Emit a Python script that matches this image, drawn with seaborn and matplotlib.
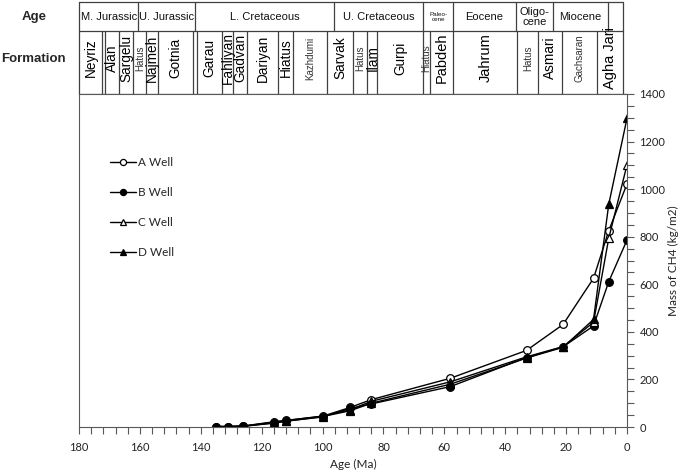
import matplotlib
matplotlib.use("Agg")
import matplotlib.pyplot as plt
from matplotlib.ticker import MultipleLocator
import seaborn as sns
import pandas as pd

# ---------------- data ----------------
ages = [135, 131, 126, 116, 112, 100, 91, 84, 58, 33, 21, 11, 6, 0]
well_a = [2, 2, 4, 22, 28, 45, 82, 115, 205, 322, 431, 625, 825, 1022]
well_b = [2, 2, 3, 18, 25, 42, 78, 97, 170, 292, 337, 425, 611, 786]
well_c = [2, 2, 4, 20, 27, 46, 72, 108, 190, 295, 338, 440, 793, 1102]
well_d = [1, 1, 3, 16, 24, 44, 68, 100, 180, 290, 335, 452, 936, 1298]
well_names = ["A Well", "B Well", "C Well", "D Well"]

age_periods = ["M. Jurassic", "U. Jurassic", "L. Cretaceous", "U. Cretaceous",
               "Paleo-\ncene", "Eocene", "Oligo-\ncene", "Miocene", ""]
formations = ["Neyriz", "", "Alan", "Sargelu", "Hatus", "Najmeh", "Gotnia", "",
              "Garau", "Fahliyan", "Gadvan", "Dariyan", "Hiatus", "Kazhdumi",
              "Sarvak", "Hatus", "Ilam", "Gurpi", "Hiatus", "Pabdeh", "Jahrum",
              "Hatus", "Asmari", "Gachsaran", "Agha Jari"]

# ---------------- layout (pixels) ----------------
W, H = 685, 472
period_edges = [79, 138.3, 195, 334.3, 423.3, 453.3, 515.7, 552.7, 608.3, 622.7]
formation_edges = [79, 101.7, 105, 119, 133, 146, 158, 193, 197, 221.7, 233,
                   247.3, 278.5, 293, 326.7, 353.3, 366.7, 377.3, 422.7, 430,
                   453.3, 517.3, 537.7, 561.7, 596.7, 622.7]
small_names = {"Hatus", "Kazhdumi", "Gachsaran"}
small_hiatus_idx = {18}
big_names = {"Pabdeh", "Jahrum", "Agha Jari"}

sns.set_style("white")
plt.rcParams["font.family"] = ["Lato", "DejaVu Sans"]

fig = plt.figure(figsize=(W / 100, H / 100), dpi=100)
ax = fig.add_axes([79 / W, (H - 427) / H, (627 - 79) / W, (427 - 94) / H])

df = pd.DataFrame({
    "age": ages * 4,
    "mass": well_a + well_b + well_c + well_d,
    "well": sum([[n] * len(ages) for n in well_names], []),
})

styles = {
    "A Well": dict(marker="o", markerfacecolor="white"),
    "B Well": dict(marker="o", markerfacecolor="black"),
    "C Well": dict(marker="^", markerfacecolor="white"),
    "D Well": dict(marker="^", markerfacecolor="black"),
}
for name in well_names:
    sub = df[df["well"] == name]
    sns.lineplot(data=sub, x="age", y="mass", ax=ax, color="black", lw=1.0,
                 markeredgecolor="black", markeredgewidth=0.9, markersize=5.5,
                 label=name, sort=False, **styles[name])

ax.set_xlim(180, 0)
ax.set_ylim(0, 1400)
ax.xaxis.set_major_locator(MultipleLocator(20))
ax.xaxis.set_minor_locator(MultipleLocator(4))
ax.yaxis.set_major_locator(MultipleLocator(200))
ax.yaxis.set_minor_locator(MultipleLocator(50))
ax.yaxis.tick_right()
ax.yaxis.set_label_position("right")
ax.tick_params(axis="both", which="both", direction="out", length=5,
               width=0.8, color="#595959", labelsize=8, labelcolor="#222222")
ax.tick_params(axis="x", which="both", bottom=True, top=False, pad=6)
ax.tick_params(axis="y", which="both", right=True, left=False, pad=4)
for s in ["left", "right", "bottom", "top"]:
    ax.spines[s].set_color("#595959")
    ax.spines[s].set_linewidth(0.8)
ax.set_xlabel("Age (Ma)", fontsize=8.5, color="#222222", labelpad=4)
ax.set_ylabel("Mass of CH4 (kg/m2)", fontsize=8.5, color="#222222", labelpad=2)

leg = ax.legend(loc="upper left", bbox_to_anchor=(110 / W, 1 - 157 / H),
                bbox_transform=fig.transFigure, frameon=False, fontsize=8.5,
                handlelength=2.2, handletextpad=0.15, labelspacing=1.6,
                borderpad=0, borderaxespad=0, markerscale=0.8)

# ---------------- stratigraphic header ----------------
hx = fig.add_axes([0, 0, 1, 1], zorder=-1)
hx.set_xlim(0, W)
hx.set_ylim(H, 0)
hx.axis("off")
lc = "#404040"
top, mid, bot = 2, 31, 94
hx.plot([79, 622.7], [top, top], color=lc, lw=0.9)
hx.plot([79, 622.7], [mid, mid], color=lc, lw=0.9)
hx.plot([79, 627], [bot, bot], color=lc, lw=0.9)
for x in period_edges:
    hx.plot([x, x], [top, mid], color=lc, lw=0.9)
for x in formation_edges:
    hx.plot([x, x], [mid, bot], color=lc, lw=0.9)

tfam = ["Liberation Sans", "DejaVu Sans"]
for i, name in enumerate(age_periods):
    if not name:
        continue
    cx = (period_edges[i] + period_edges[i + 1]) / 2
    fs = 4.5 if name.startswith("Paleo") else 8
    hx.text(cx, (top + mid) / 2 + 0.5, name, ha="center", va="center",
            fontsize=fs, family=tfam, color="#111111", linespacing=1.0)

for i, name in enumerate(formations):
    if not name:
        continue
    cx = (formation_edges[i] + formation_edges[i + 1]) / 2
    if name in small_names or i in small_hiatus_idx:
        fs, col = 7, "#333333"
    elif name in big_names:
        fs, col = 10.5, "black"
    else:
        fs, col = 9.8, "black"
    hx.text(cx + 0.3, 58, name, ha="center", va="center", rotation=90,
            fontsize=fs, family=tfam, color=col)

hx.text(34, 17, "Age", ha="center", va="center", fontsize=9.5,
        fontweight="bold", family=tfam)
hx.text(33, 59, "Formation", ha="center", va="center", fontsize=9.5,
        fontweight="bold", family=tfam)

fig.savefig("out.png", dpi=100)
